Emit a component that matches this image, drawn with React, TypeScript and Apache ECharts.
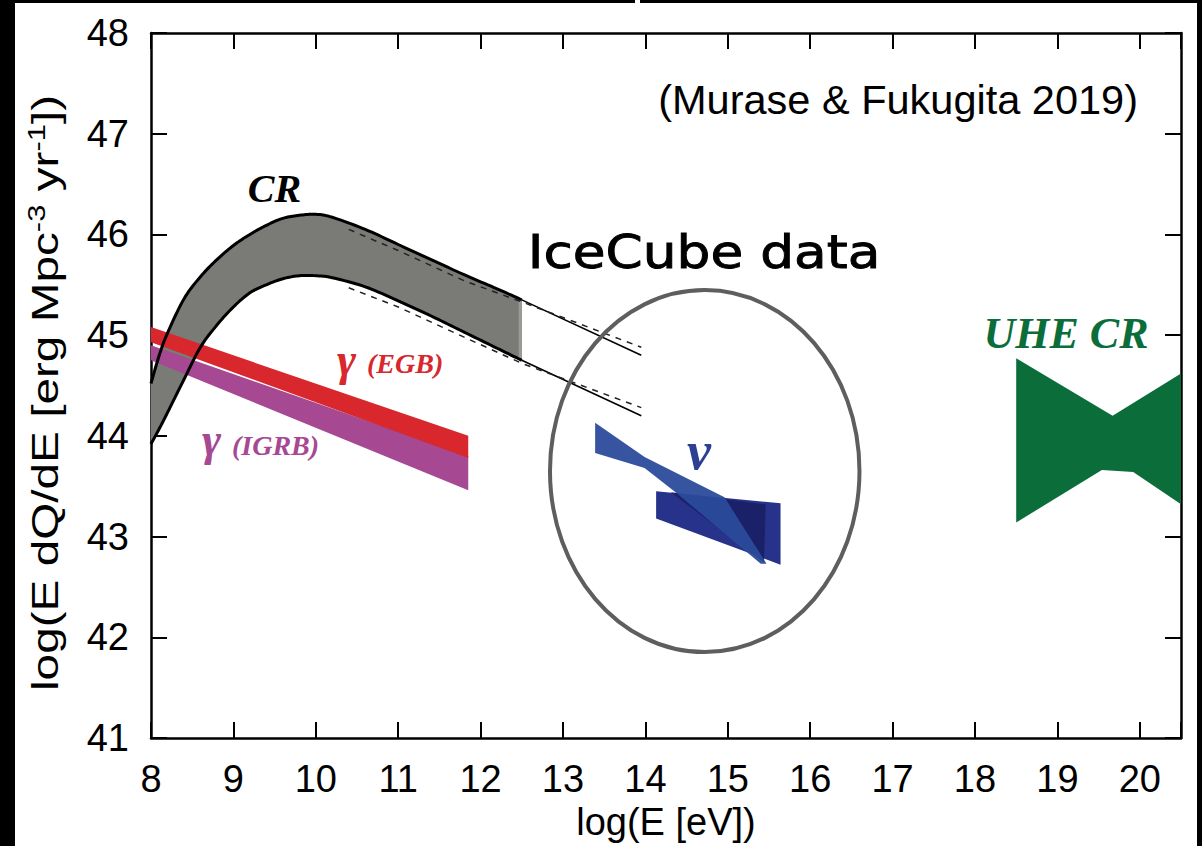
import React, { useEffect, useRef } from "react";
import * as echarts from "echarts";

// ---- axes ----
const xMin = 8;
const xMax = 20.5;
const yMin = 41;
const yMax = 48;

// ---- CR band (log E, log E dQ/dE) ----
const crX = [8, 8.1, 8.2, 8.4, 8.6, 8.8, 9.0, 9.2, 9.4, 9.6, 9.8, 10.0, 10.2, 10.6, 11.0, 11.4, 11.8, 12.2, 12.5];
const crUpper = [44.52, 44.8, 45.02, 45.36, 45.58, 45.75, 45.89, 46.0, 46.09, 46.16, 46.19, 46.2, 46.17, 46.05, 45.9, 45.75, 45.6, 45.46, 45.35];
const crLower = [43.92, 44.07, 44.23, 44.56, 44.88, 45.1, 45.28, 45.42, 45.5, 45.56, 45.59, 45.59, 45.57, 45.48, 45.34, 45.19, 45.03, 44.87, 44.75];
// thin continuation lines
const crExtX = [12.5, 13.95];
const crExtUpper = [45.35, 44.8];
const crExtLower = [44.75, 44.2];
// dashed model lines
const crDashX = [10.4, 11.0, 11.8, 12.5, 13.95];
const crDashUpper = [46.05, 45.84, 45.54, 45.33, 44.88];
const crDashLower = [45.47, 45.28, 44.98, 44.72, 44.28];

// ---- gamma bands ----
const gammaX = [8, 11.85];
const egbTop = [45.08, 44.0];
const egbBottom = [44.93, 43.78];
const igrbTop = [44.9, 43.8];
const igrbBottom = [44.75, 43.46];

// ---- neutrino (IceCube) ----
const nuBandX = [13.39, 13.99, 14.96, 15.47, 15.4, 14.35, 13.99, 13.39];
const nuBandY = [44.13, 43.79, 43.39, 42.73, 42.73, 43.45, 43.68, 43.83];
const nuBoxX = [14.13, 15.64, 15.64, 14.13];
const nuBoxY = [43.45, 43.33, 42.72, 43.18];
const nuDarkX = [14.31, 15.46, 15.44];
const nuDarkY = [43.44, 43.32, 42.74];

// ---- UHE CR ----
const uheX = [18.5, 19.67, 20.5, 20.5, 19.92, 19.54, 18.5];
const uheY = [44.77, 44.2, 44.62, 43.32, 43.64, 43.66, 43.14];

// ---- IceCube ellipse (center, radii in data units) ----
const ellCenter = [14.72, 43.65];
const ellRadii = [1.878, 1.797];

const pairs = (xs: number[], ys: number[]) => xs.map((x, i) => [x, ys[i]]);

// visual smoothing of a pixel polyline (Catmull-Rom), rendering only
function spline(pts: number[][], seg = 10): number[][] {
  const out: number[][] = [];
  const n = pts.length;
  for (let i = 0; i < n - 1; i++) {
    const p0 = pts[Math.max(i - 1, 0)];
    const p1 = pts[i];
    const p2 = pts[i + 1];
    const p3 = pts[Math.min(i + 2, n - 1)];
    for (let k = 0; k < seg; k++) {
      const t = k / seg;
      const t2 = t * t;
      const t3 = t2 * t;
      out.push(
        [0, 1].map(
          (j) =>
            0.5 *
            (2 * p1[j] +
              (-p0[j] + p2[j]) * t +
              (2 * p0[j] - 5 * p1[j] + 4 * p2[j] - p3[j]) * t2 +
              (-p0[j] + 3 * p1[j] - 3 * p2[j] + p3[j]) * t3)
        )
      );
    }
  }
  out.push(pts[n - 1]);
  return out;
}

export default function App() {
  const ref = useRef<HTMLDivElement>(null);

  useEffect(() => {
    const chart = echarts.init(ref.current!, null, { renderer: "svg" });

    const poly = (xs: number[], ys: number[], style: any, z: number) => ({
      type: "custom",
      z,
      silent: true,
      data: pairs(xs, ys),
      renderItem: (params: any, api: any) => {
        if (params.dataIndex !== 0) return null;
        return {
          type: "polygon",
          shape: { points: xs.map((x, i) => api.coord([x, ys[i]])) },
          style,
        };
      },
    });

    const line = (xs: number[], ys: number[], width: number, type: any, color: string, z: number) => ({
      type: "line",
      data: pairs(xs, ys),
      symbol: "none",
      smooth: false,
      silent: true,
      z,
      lineStyle: { width, type, color },
    });

    const crCurves = (api: any) => {
      const up = spline(crX.map((x, i) => api.coord([x, crUpper[i]])));
      const lo = spline(crX.map((x, i) => api.coord([x, crLower[i]])));
      return { up, lo };
    };

    const sans = "'Liberation Sans', Arial, Helvetica, sans-serif";
    const serif = "'Liberation Serif', 'Times New Roman', serif";

    const axisCommonX = {
      type: "value",
      min: xMin,
      max: xMax,
      interval: 1,
      splitLine: { show: false },
      axisLine: { show: true, onZero: false, lineStyle: { color: "#000", width: 2.5 } },
      axisTick: { show: true, inside: true, length: 16, lineStyle: { color: "#000", width: 2 } },
    };
    const axisCommonY = {
      type: "value",
      min: yMin,
      max: yMax,
      interval: 1,
      splitLine: { show: false },
      axisLine: { show: true, onZero: false, lineStyle: { color: "#000", width: 2.5 } },
      axisTick: { show: true, inside: true, length: 16, lineStyle: { color: "#000", width: 2 } },
    };

    const serifLabel = (text: string, x: number, y: number, size: number, fill: string, align = "left") => ({
      type: "text",
      x,
      y,
      style: { text, fontSize: size, fontWeight: "bold", fontStyle: "italic", fontFamily: serif, fill, align, verticalAlign: "middle" },
    });

    chart.setOption({
      animation: false,
      backgroundColor: "#fff",
      grid: { left: 136, right: 16, top: 30, bottom: 108, containLabel: false },
      xAxis: [
        {
          ...axisCommonX,
          position: "bottom",
          axisLabel: {
            fontSize: 38,
            fontFamily: sans,
            color: "#000",
            margin: 22,
            formatter: (v: number) => (Math.abs(v - Math.round(v)) < 1e-9 ? String(Math.round(v)) : ""),
          },
          name: "log(E [eV])",
          nameLocation: "middle",
          nameGap: 56,
          nameTextStyle: { fontSize: 38, fontFamily: sans, color: "#000" },
        },
        { ...axisCommonX, position: "top", axisLabel: { show: false } },
      ],
      yAxis: [
        {
          ...axisCommonY,
          position: "left",
          axisLabel: { fontSize: 38, fontFamily: sans, color: "#000", margin: 22 },
        },
        { ...axisCommonY, position: "right", axisLabel: { show: false } },
      ],
      graphic: [
        {
          type: "text",
          x: 30,
          y: 390,
          rotation: Math.PI / 2,
          scaleX: 1.29,
          style: {
            text: "{a|log(E dQ/dE [erg Mpc}{s|-3}{a| yr}{s|-1}{a|])}",
            align: "center",
            verticalAlign: "middle",
            rich: {
              a: { fontSize: 37, fontFamily: sans, fill: "#000", lineHeight: 40 },
              s: { fontSize: 24, fontFamily: sans, fill: "#000", verticalAlign: "top", lineHeight: 40 },
            },
          },
        },
        {
          type: "text",
          x: 1123,
          y: 96,
          style: { text: "(Murase & Fukugita 2019)", fontSize: 41.5, fontFamily: sans, fill: "#000", align: "right", verticalAlign: "middle" },
        },
        {
          type: "text",
          x: 689,
          y: 249,
          scaleX: 1.16,
          style: {
            text: "IceCube data",
            fontSize: 46,
            fontFamily: "'DejaVu Sans', sans-serif",
            fill: "#000",
            stroke: "#000",
            lineWidth: 0.9,
            align: "center",
            verticalAlign: "middle",
          },
        },
        serifLabel("CR", 259.5, 185, 40, "#000", "center"),
        serifLabel("γ", 322, 356, 46, "#d8272d"),
        serifLabel("(EGB)", 352, 360, 28, "#d8272d"),
        serifLabel("γ", 187, 436, 46, "#a64892"),
        serifLabel("(IGRB)", 217, 442, 28, "#a64892"),
        serifLabel("ν", 684, 448, 54, "#2b3f95", "center"),
        serifLabel("UHE CR", 1051, 330, 44, "#0b6e3a", "center"),
      ],
      series: [
        // CR band fill
        {
          type: "custom",
          z: 1,
          silent: true,
          data: pairs(crX, crUpper),
          renderItem: (params: any, api: any) => {
            if (params.dataIndex !== 0) return null;
            const { up, lo } = crCurves(api);
            return {
              type: "polygon",
              shape: { points: [...up, ...lo.slice().reverse()] },
              style: { fill: "#7a7a76" },
            };
          },
        },
        line([12.48, 12.48], [44.76, 45.34], 3, "solid", "#9a9a96", 2),
        poly([gammaX[0], gammaX[1], gammaX[1], gammaX[0]], [igrbTop[0], igrbTop[1], igrbBottom[1], igrbBottom[0]], { fill: "#a64892" }, 3),
        poly([gammaX[0], gammaX[1], gammaX[1], gammaX[0]], [egbTop[0], egbTop[1], egbBottom[1], egbBottom[0]], { fill: "#d8272d" }, 4),
        // CR outlines
        {
          type: "custom",
          z: 5,
          silent: true,
          data: pairs(crX, crLower),
          renderItem: (params: any, api: any) => {
            if (params.dataIndex !== 0) return null;
            const { up, lo } = crCurves(api);
            const st = { fill: "none", stroke: "#000", lineWidth: 3 };
            return {
              type: "group",
              children: [
                { type: "polyline", shape: { points: up }, style: st },
                { type: "polyline", shape: { points: lo }, style: st },
              ],
            };
          },
        },
        line(crExtX, crExtUpper, 1.6, "solid", "#000", 5),
        line(crExtX, crExtLower, 1.6, "solid", "#000", 5),
        line(crDashX, crDashUpper, 1.5, [6, 6], "#222", 5),
        line(crDashX, crDashLower, 1.5, [6, 6], "#222", 5),
        poly(nuBoxX, nuBoxY, { fill: "#27338a" }, 3),
        poly(nuDarkX, nuDarkY, { fill: "#1b2168" }, 4),
        poly(nuBandX, nuBandY, { fill: "#2b4b9b", opacity: 0.95 }, 5),
        poly(uheX, uheY, { fill: "#0b6e3a" }, 3),
        {
          type: "custom",
          z: 7,
          silent: true,
          data: [ellCenter],
          renderItem: (params: any, api: any) => {
            const c = api.coord(ellCenter);
            const s = api.size(ellRadii);
            return {
              type: "ellipse",
              shape: { cx: c[0], cy: c[1], rx: s[0], ry: s[1] },
              style: { fill: "none", stroke: "#5e5e5e", lineWidth: 4 },
            };
          },
        },
      ],
    });

    return () => chart.dispose();
  }, []);

  return (
    <div style={{ position: "absolute", left: 0, top: 0, width: 1202, height: 846, background: "#000", overflow: "hidden" }}>
      <div style={{ position: "absolute", left: 635, top: 0, width: 5, height: 3, background: "#fff" }} />
      <div ref={ref} style={{ position: "absolute", left: 15, top: 3, width: 1182, height: 843, background: "#fff" }} />
    </div>
  );
}
